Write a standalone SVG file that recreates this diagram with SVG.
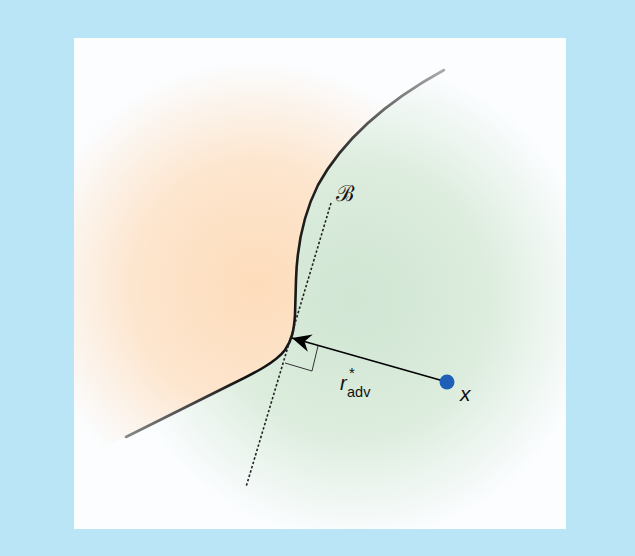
<svg xmlns="http://www.w3.org/2000/svg" width="635" height="556" viewBox="0 0 635 556">
  <style>
    .lbl { font-family: "Liberation Sans", Arial, sans-serif; fill: #111; font-style: italic; }
    .sub { font-family: "Liberation Sans", Arial, sans-serif; fill: #111; }
  </style>
  <defs>
    <clipPath id="panelClip"><rect x="74" y="38" width="492" height="491"/></clipPath>
    <radialGradient id="orangeG" gradientUnits="userSpaceOnUse" cx="255" cy="285" r="225">
      <stop offset="0" stop-color="#fddcba"/>
      <stop offset="0.55" stop-color="#fde6cf"/>
      <stop offset="1" stop-color="#fbfdff"/>
    </radialGradient>
    <radialGradient id="greenG" gradientUnits="userSpaceOnUse" cx="355" cy="300" r="240">
      <stop offset="0" stop-color="#d0e6d3"/>
      <stop offset="0.55" stop-color="#dcecdd"/>
      <stop offset="1" stop-color="#fbfdff"/>
    </radialGradient>
    <linearGradient id="curveG" gradientUnits="userSpaceOnUse" x1="444" y1="70" x2="126" y2="437">
      <stop offset="0" stop-color="#aaaaaa"/>
      <stop offset="0.3" stop-color="#222"/>
      <stop offset="0.75" stop-color="#111"/>
      <stop offset="1" stop-color="#888"/>
    </linearGradient>
    <marker id="arrowHead" viewBox="-22 -11 24 22" refX="0" refY="0" markerWidth="24" markerHeight="22" markerUnits="userSpaceOnUse" orient="auto">
      <path d="M0,0 L-19,-9 L-13,0 L-19,9 Z" fill="#000"/>
    </marker>
  </defs>

  <rect x="0" y="0" width="635" height="556" fill="#b9e5f7"/>
  <rect x="74" y="38" width="492" height="491" fill="#fbfdff"/>

  <g id="regions" clip-path="url(#panelClip)">
    <path id="regionA" d="M40,480 L126,437 C160,420 190,405 230,385 C255,373 276,362 285,350 C292,340 294,330 295,315 L296,280 C297,245 303,215 318,185 C340,145 380,105 444,70 L520,20 L40,20 Z" fill="url(#orangeG)"/>
    <path id="regionB" d="M40,480 L126,437 C160,420 190,405 230,385 C255,373 276,362 285,350 C292,340 294,330 295,315 L296,280 C297,245 303,215 318,185 C340,145 380,105 444,70 L520,20 L600,20 L600,560 L40,560 Z" fill="url(#greenG)"/>
  </g>

  <g id="boundary">
    <path d="M126,437 C160,420 190,405 230,385 C255,373 276,362 285,350 C292,340 294,330 295,315 L296,280 C297,245 303,215 318,185 C340,145 380,105 444,70" fill="none" stroke="url(#curveG)" stroke-width="2.6" stroke-linecap="round"/>
  </g>

  <g id="connectors">
    <line x1="331" y1="203" x2="246" y2="487" stroke="#222" stroke-width="1.6" stroke-dasharray="2.5,2"/>
    <polyline points="285,363 312,371 318,346" fill="none" stroke="#333" stroke-width="1"/>
    <line x1="447" y1="382" x2="292" y2="338" stroke="#000" stroke-width="1.6" marker-end="url(#arrowHead)"/>
  </g>

  <g id="point-x">
    <circle cx="447" cy="382" r="7.5" fill="#1f5fb8"/>
    <text class="lbl" x="460" y="401" font-size="21">x</text>
  </g>

  <g id="label-r">
    <text class="sub" x="340" y="390" font-size="20" font-style="italic">r</text>
    <text class="sub" x="349" y="378" font-size="15">*</text>
    <text class="sub" x="347" y="397" font-size="14.5">adv</text>
  </g>

  <g id="label-B">
    <text x="336" y="201" font-size="22" font-family="DejaVu Serif, serif" fill="#111">ℬ</text>
  </g>
</svg>
